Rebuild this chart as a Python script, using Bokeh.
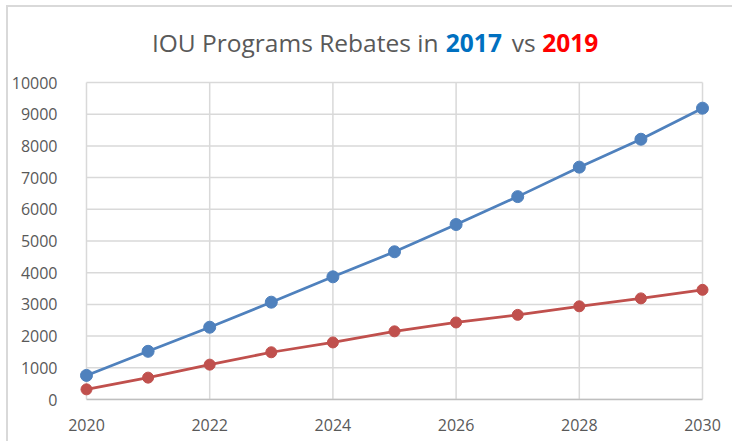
from bokeh.plotting import figure
from bokeh.models import Range1d, FixedTicker
from bokeh.core.properties import value
from bokeh.embed import file_html
from bokeh.resources import INLINE

# ---- data ----
years = [2020, 2021, 2022, 2023, 2024, 2025, 2026, 2027, 2028, 2029, 2030]
rebates_2017 = [760, 1520, 2280, 3070, 3870, 4660, 5520, 6400, 7330, 8210, 9190]
rebates_2019 = [320, 690, 1100, 1490, 1800, 2150, 2430, 2670, 2940, 3190, 3460]
x_ticks = [2020, 2022, 2024, 2026, 2028, 2030]
x_tick_labels = ["2020", "2022", "2024", "2026", "2028", "2030"]
y_ticks = [0, 1000, 2000, 3000, 4000, 5000, 6000, 7000, 8000, 9000, 10000]
y_tick_labels = ["0", "1000", "2000", "3000", "4000", "5000", "6000", "7000", "8000", "9000", "10000"]
title_parts = ["IOU Programs Rebates in", "2017", "vs", "2019"]

# ---- style ----
FONT = "Open Sans"
GREY_TEXT = "#595959"
GRID = "#d9d9d9"
BLUE = "#4F81BD"
RED = "#C0504D"

PX_X = 61.7          # pixels per year
PX_Y = 317 / 10000   # pixels per unit
x_pad = 7 / PX_X
y_top = 392 / PX_Y   # frame extends to the top of the canvas so the title can live inside it

p = figure(width=726, height=436, output_backend="svg", toolbar_location=None,
           x_range=Range1d(2020 - x_pad, 2030 + x_pad),
           y_range=Range1d(0, y_top),
           min_border_left=70, min_border_right=25, min_border_top=0, min_border_bottom=44,
           styles={"border-left": "2px solid #d9d9d9", "border-top": "2px solid #d9d9d9",
                   "margin-left": "6px", "margin-top": "5px"})
p.title.visible = False
p.outline_line_color = None
p.background_fill_color = "white"
p.border_fill_color = "white"
p.xgrid.visible = False
p.ygrid.visible = False

# grid lines limited to the data extent
p.segment(x0=[x_ticks[0]] * len(y_ticks), x1=[x_ticks[-1]] * len(y_ticks), y0=y_ticks, y1=y_ticks,
          line_color=GRID, line_width=1.5)
p.segment(x0=x_ticks, x1=x_ticks, y0=[y_ticks[0]] * len(x_ticks), y1=[y_ticks[-1]] * len(x_ticks),
          line_color=GRID, line_width=1.5)

# axes
xa = p.xaxis[0]
xa.ticker = FixedTicker(ticks=x_ticks)
xa.major_label_overrides = {t: l for t, l in zip(x_ticks, x_tick_labels)}
xa.bounds = (x_ticks[0], x_ticks[-1])
xa.axis_line_color = "#bfbfbf"
xa.axis_line_width = 1.5
xa.major_tick_line_color = None
xa.minor_tick_line_color = None
xa.major_label_standoff = 13
xa.major_label_text_font = FONT
xa.major_label_text_font_size = "16px"
xa.major_label_text_color = GREY_TEXT

ya = p.yaxis[0]
ya.ticker = FixedTicker(ticks=y_ticks)
ya.major_label_overrides = {t: l for t, l in zip(y_ticks, y_tick_labels)}
ya.axis_line_color = None
ya.major_tick_line_color = None
ya.minor_tick_line_color = None
ya.major_label_standoff = 16
ya.major_label_text_font = FONT
ya.major_label_text_font_size = "16px"
ya.major_label_text_color = GREY_TEXT

# series
p.line(years, rebates_2017, line_color=BLUE, line_width=2.75)
p.scatter(years, rebates_2017, size=12, fill_color=BLUE, line_color=BLUE)
p.line(years, rebates_2019, line_color=RED, line_width=2.75)
p.scatter(years, rebates_2019, size=11, fill_color=RED, line_color=RED)

# multi-coloured title, placed inside the (extended) frame
title_y = 357 / PX_Y
title_x = [2020 + (294 - 85) / PX_X, 2020 + (473 - 85) / PX_X,
           2020 + (523 - 85) / PX_X, 2020 + (569.5 - 85) / PX_X]
title_colors = [GREY_TEXT, "#0070C0", GREY_TEXT, "#FF0000"]
title_styles = ["normal", "bold", "normal", "bold"]
for txt, tx, col, st in zip(title_parts, title_x, title_colors, title_styles):
    p.text(x=[tx], y=[title_y], text=[txt], text_align="center", text_baseline="alphabetic",
           text_font=value(FONT), text_font_size="24.5px", text_color=col, text_font_style=st)

open("out.html", "w").write(file_html(p, INLINE))
